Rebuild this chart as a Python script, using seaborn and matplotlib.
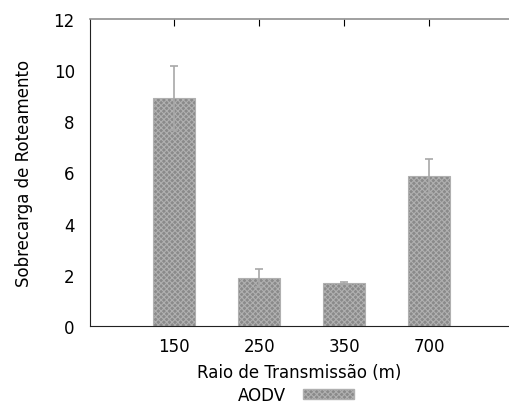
import matplotlib
matplotlib.use("Agg")
import matplotlib.pyplot as plt
import seaborn as sns
import pandas as pd
from matplotlib.patches import Patch

categories = ["150", "250", "350", "700"]
values = [8.9, 1.87, 1.68, 5.86]
errors = [1.26, 0.36, 0.04, 0.66]
series_name = "AODV"

sns.set_style("white")
plt.rcParams["font.family"] = ["DejaVu Sans"]
plt.rcParams["hatch.color"] = "#f0f0f0"
plt.rcParams["hatch.linewidth"] = 0.8
plt.rcParams["text.color"] = "black"
plt.rcParams["axes.labelcolor"] = "black"
plt.rcParams["xtick.color"] = "black"
plt.rcParams["ytick.color"] = "black"

df = pd.DataFrame({"raio": categories, "valor": values})

fig = plt.figure(figsize=(5.09, 4.06), dpi=100)
ax = fig.add_axes([0.177, 0.195, 0.823, 0.756])

sns.barplot(data=df, x="raio", y="valor", ax=ax, color="#8a8a8a",
            width=0.5, errorbar=None, saturation=1)
for p in ax.patches:
    p.set_hatch("xxxxxx")
    p.set_edgecolor("#b0b0b0")
    p.set_linewidth(0.8)

ax.errorbar(range(len(categories)), values, yerr=errors, fmt="none",
            ecolor="#a8a8a8", elinewidth=1.2, capsize=3, capthick=1.2, zorder=1)

ax.set_xlim(-0.99, 3.94)
ax.set_ylim(0, 12)
ax.set_yticks([0, 2, 4, 6, 8, 10, 12])
ax.set_xlabel("Raio de Transmissão (m)", fontsize=12, labelpad=6)
ax.set_ylabel("Sobrecarga de Roteamento", fontsize=12, labelpad=15)
ax.tick_params(axis="both", labelsize=12, direction="in", length=5)
ax.tick_params(axis="x", pad=8, top=True, bottom=True)
ax.tick_params(axis="y", pad=11)

ax.spines["right"].set_visible(False)
ax.spines["top"].set_color("#909090")
ax.spines["top"].set_linewidth(1.2)
ax.spines["left"].set_color("#222222")
ax.spines["bottom"].set_color("#222222")

handle = Patch(facecolor="#8a8a8a", edgecolor="#b0b0b0", hatch="xxxxxx", label=series_name)
fig.legend(handles=[handle], loc="center", bbox_to_anchor=(0.582, 0.025),
           frameon=False, markerfirst=False, fontsize=12, handlelength=3.1,
           handleheight=0.5, handletextpad=1.0)

fig.savefig("out.png", dpi=100)
